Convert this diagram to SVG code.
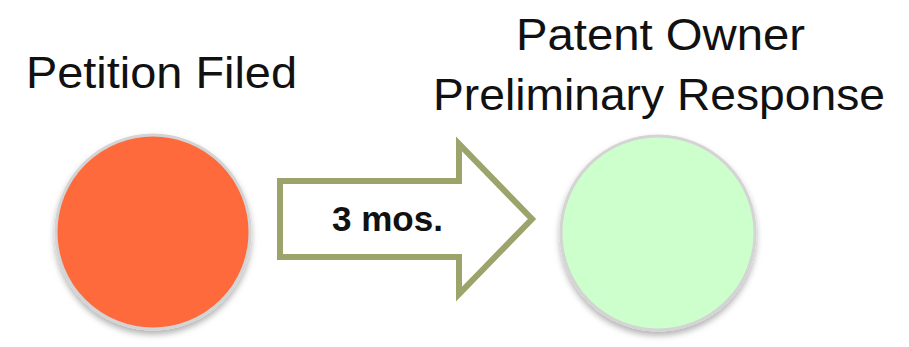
<svg xmlns="http://www.w3.org/2000/svg" width="909" height="347" viewBox="0 0 909 347">
  <defs>
    <filter id="shadow" x="-20%" y="-20%" width="140%" height="150%">
      <feDropShadow dx="0" dy="4" stdDeviation="3" flood-color="#000" flood-opacity="0.3"/>
    </filter>
    <style>
      .label { font-family: "Liberation Sans", Arial, sans-serif; font-size: 45px; fill: #111; }
      .node { stroke: #D4D4D4; stroke-width: 3; filter: url(#shadow); }
      .arrow { fill: #FFFFFF; stroke: #9CA36B; stroke-width: 6; stroke-linejoin: miter; }
      .arrow-label { font-family: "Liberation Sans", Arial, sans-serif; font-size: 35px; font-weight: bold; fill: #111; }
    </style>
  </defs>
  <rect width="909" height="347" fill="#FFFFFF"/>
  <g id="petition-filed">
    <text class="label" x="26" y="88" textLength="271" lengthAdjust="spacingAndGlyphs">Petition Filed</text>
    <circle class="node" cx="153" cy="232" r="97" fill="#FF6A3E"/>
  </g>
  <g id="connectors">
    <polygon class="arrow" points="280,181 459,181 459,144 532,219 459,294 459,257 280,257"/>
    <text class="arrow-label" x="332" y="231" textLength="111" lengthAdjust="spacingAndGlyphs">3 mos.</text>
  </g>
  <g id="patent-owner-preliminary-response">
    <text class="label" x="516" y="50" textLength="289" lengthAdjust="spacingAndGlyphs">Patent Owner</text>
    <text class="label" x="433" y="110" textLength="452" lengthAdjust="spacingAndGlyphs">Preliminary Response</text>
    <circle class="node" cx="658" cy="233" r="97" fill="#CCFFCC"/>
  </g>
</svg>
